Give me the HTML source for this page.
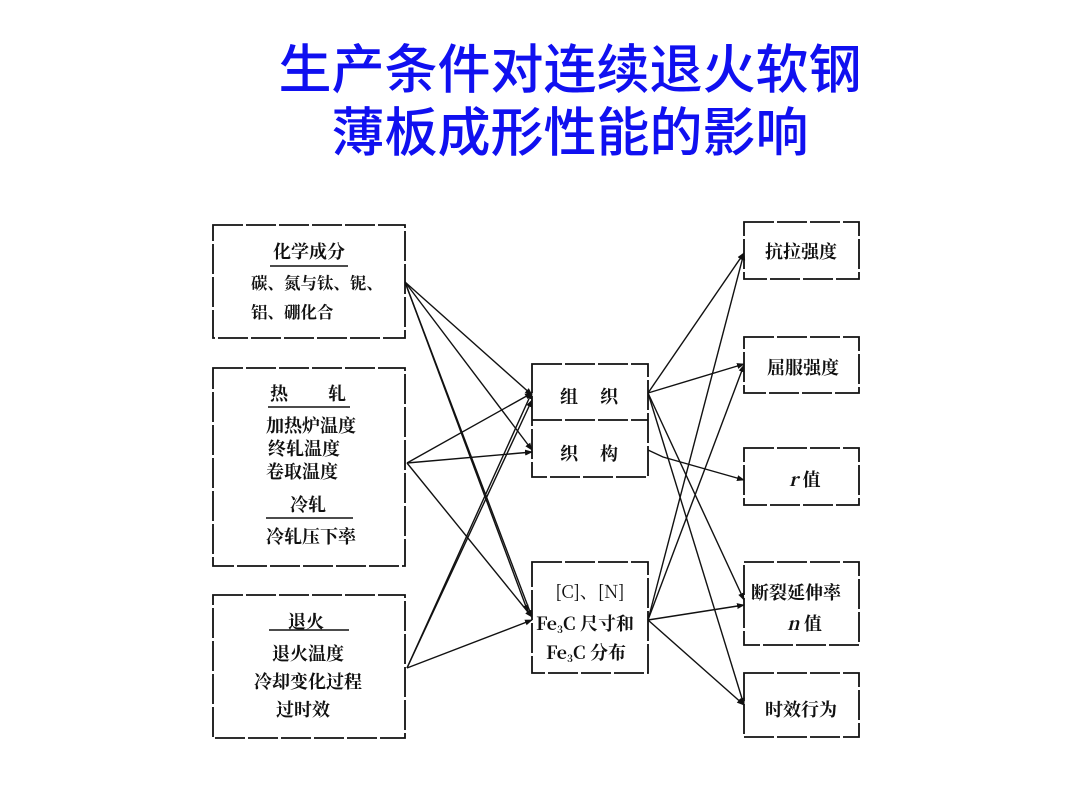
<!DOCTYPE html>
<html><head><meta charset="utf-8"><style>
body{margin:0;width:1080px;height:810px;background:#fff;overflow:hidden;font-family:"Liberation Sans","Noto Sans CJK SC",sans-serif}
.t{position:absolute;left:0;width:1140px;text-align:center;color:#1010f0;font-size:53px;font-weight:500;font-family:"Noto Sans CJK SC",sans-serif;line-height:1}
</style></head><body>
<div class="t" style="top:40px">生产条件对连续退火软钢</div>
<div class="t" style="top:103px">薄板成形性能的影响</div>
<svg width="1080" height="810" style="position:absolute;left:0;top:0" font-family="'Liberation Serif','Noto Serif CJK SC',serif" font-size="18" font-weight="bold" fill="#111">
<defs><marker id="a" markerWidth="8" markerHeight="8" refX="7" refY="4" orient="auto" markerUnits="userSpaceOnUse"><path d="M0,1 L8,4 L0,7 z" fill="#111"/></marker></defs>
<g fill="none" stroke="#111" stroke-width="1.8" stroke-dasharray="30,3">
<rect x="213" y="225" width="192" height="113"/>
<rect x="213" y="368" width="192" height="198"/>
<rect x="213" y="595" width="192" height="143"/>
<rect x="532" y="364" width="116" height="113"/>
<line x1="532" y1="420" x2="648" y2="420"/>
<rect x="532" y="562" width="116" height="111"/>
<rect x="744" y="222" width="115" height="57"/>
<rect x="744" y="337" width="115" height="56"/>
<rect x="744" y="448" width="115" height="57"/>
<rect x="744" y="562" width="115" height="83"/>
<rect x="744" y="673" width="115" height="64"/>
</g>
<g stroke="#111" stroke-width="1.4" marker-end="url(#a)">
<line x1="405" y1="282" x2="532" y2="395"/>
<line x1="405" y1="282" x2="532" y2="450"/>
<line x1="405" y1="282" x2="532" y2="617"/>
<line x1="405" y1="282" x2="528" y2="612"/>
<line x1="407" y1="463" x2="532" y2="393"/>
<line x1="407" y1="463" x2="532" y2="452"/>
<line x1="407" y1="463" x2="532" y2="617"/>
<line x1="407" y1="668" x2="532" y2="392"/>
<line x1="407" y1="668" x2="532" y2="400"/>
<line x1="407" y1="668" x2="532" y2="620"/>
<line x1="648" y1="393" x2="744" y2="253"/>
<line x1="648" y1="393" x2="744" y2="364"/>
<line x1="648" y1="393" x2="744" y2="600"/>
<line x1="648" y1="393" x2="744" y2="705"/>
<polyline fill="none" points="648,450 663,457 744,480"/>
<line x1="648" y1="620" x2="744" y2="253"/>
<line x1="648" y1="620" x2="744" y2="365"/>
<line x1="648" y1="620" x2="744" y2="605"/>
<line x1="648" y1="620" x2="744" y2="705"/>
</g>
<g stroke="#111" stroke-width="1.4">
<line x1="270" y1="266" x2="348" y2="266"/>
<line x1="268" y1="407" x2="350" y2="407"/>
<line x1="266" y1="518" x2="353" y2="518"/>
<line x1="269" y1="630" x2="349" y2="630"/>
</g>
<g font-family="'Noto Serif CJK SC','Noto Sans CJK SC',serif">
<text x="309" y="258" text-anchor="middle">化学成分</text>
<text x="251" y="289" font-size="16.5">碳、氮与钛、铌、</text>
<text x="251" y="318" font-size="16.5">铝、硼化合</text>
<text x="270" y="400">热</text><text x="328" y="400">轧</text>
<text x="266" y="432">加热炉温度</text>
<text x="268" y="455">终轧温度</text>
<text x="266" y="478">卷取温度</text>
<text x="308" y="511" text-anchor="middle">冷轧</text>
<text x="266" y="543">冷轧压下率</text>
<text x="306" y="628" text-anchor="middle">退火</text>
<text x="272" y="660">退火温度</text>
<text x="254" y="688">冷却变化过程</text>
<text x="276" y="716">过时效</text>
<text x="560" y="403">组</text><text x="600" y="403">织</text>
<text x="560" y="460">织</text><text x="600" y="460">构</text>
<text x="590" y="598" text-anchor="middle" font-weight="normal">[C]、[N]</text>
<text x="536" y="630">Fe<tspan font-size="10" dy="3">3</tspan><tspan dy="-3">C 尺寸和</tspan></text>
<text x="546" y="659">Fe<tspan font-size="10" dy="3">3</tspan><tspan dy="-3">C 分布</tspan></text>
<text x="765" y="258">抗拉强度</text>
<text x="767" y="374">屈服强度</text>
<text x="789" y="486"><tspan font-style="italic">r</tspan> 值</text>
<text x="751" y="599">断裂延伸率</text>
<text x="787" y="630"><tspan font-style="italic">n</tspan> 值</text>
<text x="765" y="716">时效行为</text>
</g>
</svg>
</body></html>
